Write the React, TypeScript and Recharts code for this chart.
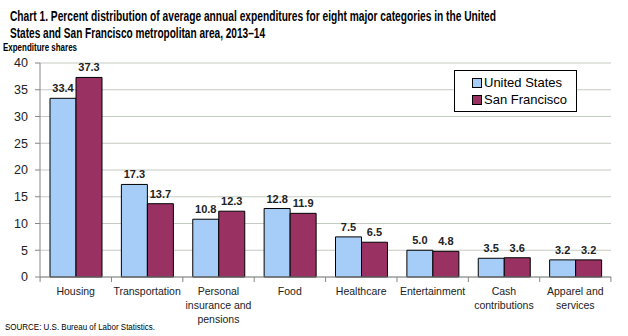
import React from 'react';
import { BarChart, Bar, XAxis, YAxis, CartesianGrid, LabelList } from 'recharts';

const categories = [
  ['Housing'],
  ['Transportation'],
  ['Personal', 'insurance and', 'pensions'],
  ['Food'],
  ['Healthcare'],
  ['Entertainment'],
  ['Cash', 'contributions'],
  ['Apparel and', 'services'],
];
const usValues = [33.4, 17.3, 10.8, 12.8, 7.5, 5.0, 3.5, 3.2];
const sfValues = [37.3, 13.7, 12.3, 11.9, 6.5, 4.8, 3.6, 3.2];
const yTicks = [0, 5, 10, 15, 20, 25, 30, 35, 40];
const titleLines = [
  'Chart 1. Percent distribution of average annual expenditures for eight major categories in  the United',
  'States and San Francisco metropolitan area, 2013–14',
];

const US_COLOR = '#a6cdf7';
const SF_COLOR = '#993262';
const FONT = '"Liberation Sans", Arial, sans-serif';

const data = categories.map((c, i) => ({
  key: String(i),
  us: usValues[i],
  sf: sfValues[i],
}));

// category labels, plus tick marks between the categories
const CategoryTick = (props: any) => {
  const { x, y, payload, index } = props;
  const lines = categories[Number(payload.value)];
  const half = 35.6;
  return (
    <g>
      <line x1={x - half} x2={x - half} y1={y - 8} y2={y - 3} stroke="#868686" />
      {index === categories.length - 1 && (
        <line x1={x + half} x2={x + half} y1={y - 8} y2={y - 3} stroke="#868686" />
      )}
      {lines.map((l: string, i: number) => (
        <text key={i} x={x} y={y + 10 + i * 14} textAnchor="middle" fontSize={10.5} fill="#222" fontFamily={FONT}>
          {l}
        </text>
      ))}
    </g>
  );
};

const labelStyle = { fontSize: 11, fontWeight: 'bold', fill: '#222', fontFamily: FONT };

export default function App() {
  return (
    <div style={{ position: 'absolute', left: 0, top: 0, width: 628, height: 336, background: '#fff', fontFamily: FONT }}>
      <BarChart
        width={628}
        height={336}
        data={data}
        margin={{ top: 63, right: 17, bottom: 0, left: 0 }}
        barCategoryGap={10}
        barGap={0}
      >
        <CartesianGrid vertical={false} stroke="#c4cbc0" />
        <XAxis
          dataKey="key"
          interval={0}
          tickLine={false}
          stroke="#868686"
          tick={<CategoryTick />}
          height={59}
        />
        <YAxis
          width={40}
          domain={[0, 40]}
          ticks={yTicks}
          interval={0}
          stroke="#868686"
          tickSize={5}
          tickMargin={7}
          tick={{ fontSize: 12.5, fill: '#222', fontFamily: FONT }}
        />
        <Bar dataKey="us" name="United States" fill={US_COLOR} stroke="#000" strokeWidth={1} isAnimationActive={false}>
          <LabelList dataKey="us" position="top" offset={6} formatter={(v: any) => Number(v).toFixed(1)} style={labelStyle} />
        </Bar>
        <Bar dataKey="sf" name="San Francisco" fill={SF_COLOR} stroke="#000" strokeWidth={1} isAnimationActive={false}>
          <LabelList dataKey="sf" position="top" offset={6} formatter={(v: any) => Number(v).toFixed(1)} style={labelStyle} />
        </Bar>
      </BarChart>
      <svg width={628} height={336} style={{ position: 'absolute', left: 0, top: 0, pointerEvents: 'none' }}>
        <text x={10} y={21} fontSize={14} fontWeight="bold" fontFamily={FONT} fill="#000" textLength={486} lengthAdjust="spacingAndGlyphs">
          {titleLines[0]}
        </text>
        <text x={10} y={38} fontSize={14} fontWeight="bold" fontFamily={FONT} fill="#000" textLength={255} lengthAdjust="spacingAndGlyphs">
          {titleLines[1]}
        </text>
        <text x={3} y={51} fontSize={10} fontWeight="bold" fontFamily={FONT} fill="#000" textLength={74} lengthAdjust="spacingAndGlyphs">
          Expenditure shares
        </text>
        <text x={5} y={330} fontSize={8.5} fontFamily={FONT} fill="#000" textLength={150} lengthAdjust="spacingAndGlyphs">
          SOURCE: U.S. Bureau of Labor Statistics.
        </text>
      </svg>
      <div
        style={{
          position: 'absolute',
          left: 454,
          top: 70,
          border: '1px solid #000',
          width: 123,
          height: 42,
          background: '#fff',
          fontSize: 13,
          color: '#000',
          boxSizing: 'border-box',
          padding: '3px 0 0 17px',
          lineHeight: '17px',
        }}
      >
        {[
          ['United States', US_COLOR],
          ['San Francisco', SF_COLOR],
        ].map(([name, color]) => (
          <div key={name} style={{ display: 'flex', alignItems: 'center', whiteSpace: 'nowrap' }}>
            <span style={{ display: 'inline-block', width: 8, height: 8, background: color, border: '1px solid #000', marginRight: 2 }} />
            {name}
          </div>
        ))}
      </div>
    </div>
  );
}
